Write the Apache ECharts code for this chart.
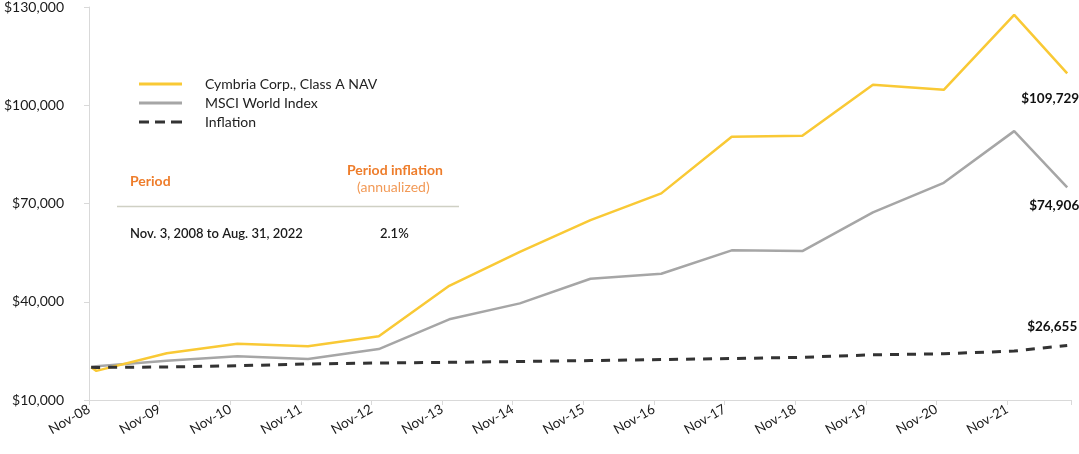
<!DOCTYPE html>
<html>
<head>
<meta charset="utf-8">
<title>Cymbria growth of $20,000</title>
<script src="https://cdn.jsdelivr.net/npm/echarts@6/dist/echarts.min.js"></script>
<style>
  html, body { margin: 0; padding: 0; background: #fff; }
  #chart { width: 1079px; height: 454px; }
</style>
</head>
<body>
<div id="chart"></div>
<script>
// observation dates (start, first month end, then yearly)
const dates = [
  "2008-11-03", "2008-11-30", "2009-11-30", "2010-11-30", "2011-11-30",
  "2012-11-30", "2013-11-30", "2014-11-30", "2015-11-30", "2016-11-30",
  "2017-11-30", "2018-11-30", "2019-11-30", "2020-11-30", "2021-11-30",
  "2022-08-31",
];

const cymbria = [
  20000, 18900, 24250, 27180, 26390, 29440, 44880, 55260, 64940, 73090,
  90360, 90670, 106230, 104700, 127600, 109729,
];
const msci = [
  20000, 20300, 22000, 23340, 22510, 25560, 34630, 39510, 47020, 48550,
  55690, 55480, 67290, 76320, 92100, 74906,
];
const inflation = [
  20000, 19950, 20070, 20470, 21000, 21300, 21500, 21750, 22050, 22360,
  22670, 23030, 23800, 24130, 24950, 26655,
];

const yTicks = [10000, 40000, 70000, 100000, 130000];
const firstYear = 2008;
const lastTickYear = 2021;

// ticks sit just before the November points, so shift x by that fraction
const TICK_SHIFT = 296 / 365.25;

function toX(s) {
  const [y, m, d] = s.split("-").map(Number);
  const doy = (Date.UTC(y, m - 1, d) - Date.UTC(y, 0, 1)) / 864e5;
  return y + doy / 365.25 - TICK_SHIFT;
}

const money = (v) => "$" + Math.round(v).toLocaleString("en-US");
const FONT = "Lato, 'Open Sans', sans-serif";

const pairs = (values) => values.map((v, i) => [toX(dates[i]), v]);

function endLabel(offset) {
  return {
    show: true,
    distance: 0,
    offset: offset,
    align: "center",
    verticalAlign: "middle",
    color: "#111",
    fontFamily: FONT,
    fontSize: 13.5,
    fontWeight: "bold",
    formatter: (p) => money(p.value[1]),
  };
}

// legend icons drawn as short line pieces
const solidIcon = "path://M0,0h43v3h-43z";
const dashIcon = "path://M0,0h10v3h-10z M16,0h10v3h-10z M32,0h11v3h-11z";

const chart = echarts.init(document.getElementById("chart"));

const option = {
  animation: false,
  textStyle: { fontFamily: FONT },
  grid: { left: 89, right: 8, top: 7, bottom: 54, containLabel: false },
  legend: {
    orient: "vertical",
    left: 134,
    top: 71,
    itemWidth: 43,
    itemHeight: 3,
    itemGap: 3,
    textStyle: { color: "#222", fontSize: 14, fontFamily: FONT, padding: [0, 0, 0, 18], lineHeight: 16 },
    data: [
      { name: "Cymbria Corp., Class A NAV", icon: solidIcon },
      { name: "MSCI World Index", icon: solidIcon },
      { name: "Inflation", icon: dashIcon },
    ],
  },
  xAxis: {
    type: "value",
    min: firstYear,
    max: lastTickYear + 0.906,
    interval: 1,
    axisLine: { lineStyle: { color: "#d9d9d9", width: 1 } },
    axisTick: { length: 5, lineStyle: { color: "#d9d9d9" } },
    splitLine: { show: false },
    axisLabel: {
      rotate: 30,
      margin: 8,
      color: "#1a1a1a",
      fontSize: 13.5,
      fontFamily: FONT,
      formatter: (v) => {
        if (Math.abs(v - Math.round(v)) > 1e-6 || v > lastTickYear) return "";
        return "Nov-" + String(Math.round(v) % 100).padStart(2, "0");
      },
    },
  },
  yAxis: {
    type: "value",
    min: yTicks[0],
    max: yTicks[yTicks.length - 1],
    interval: yTicks[1] - yTicks[0],
    axisLine: { show: true, lineStyle: { color: "#d9d9d9", width: 1 } },
    axisTick: { show: true, length: 5, lineStyle: { color: "#d9d9d9" } },
    splitLine: { show: false },
    axisLabel: {
      margin: 25,
      color: "#1a1a1a",
      fontSize: 14,
      fontFamily: FONT,
      formatter: (v) => money(v),
    },
  },
  series: [
    {
      name: "Cymbria Corp., Class A NAV",
      type: "line",
      symbol: "none",
      lineStyle: { color: "#f9c935", width: 2.5 },
      itemStyle: { color: "#f9c935" },
      endLabel: endLabel([-17, 25]),
      data: pairs(cymbria),
      z: 3,
    },
    {
      name: "MSCI World Index",
      type: "line",
      symbol: "none",
      lineStyle: { color: "#a6a6a6", width: 2.5 },
      itemStyle: { color: "#a6a6a6" },
      endLabel: endLabel([-13, 18]),
      data: pairs(msci),
      z: 2,
    },
    {
      name: "Inflation",
      type: "line",
      symbol: "none",
      lineStyle: { color: "#333333", width: 3, type: [9, 8] },
      itemStyle: { color: "#333333" },
      endLabel: endLabel([-15, -19]),
      data: pairs(inflation),
      z: 4,
    },
  ],
  graphic: [
    {
      type: "text", left: 130, top: 174,
      style: { text: "Period", fill: "#ee7d2b", font: "bold 14px " + FONT },
    },
    {
      type: "text", left: 347, top: 163,
      style: { text: "Period inflation", fill: "#ee7d2b", font: "bold 14px " + FONT },
    },
    {
      type: "text", left: 357, top: 180,
      style: { text: "(annualized)", fill: "#f29a57", font: "14px " + FONT },
    },
    {
      type: "line",
      shape: { x1: 117, y1: 206.5, x2: 459, y2: 206.5 },
      style: { stroke: "#cfd0c4", lineWidth: 1.5 },
    },
    {
      type: "text", left: 130, top: 227,
      style: { text: "Nov. 3, 2008 to Aug. 31, 2022", fill: "#1a1a1a", font: "600 13px " + FONT },
    },
    {
      type: "text", left: 380, top: 227,
      style: { text: "2.1%", fill: "#1a1a1a", font: "600 13px " + FONT },
    },
  ],
};

chart.setOption(option);
window.addEventListener("resize", () => chart.resize());
</script>
</body>
</html>
